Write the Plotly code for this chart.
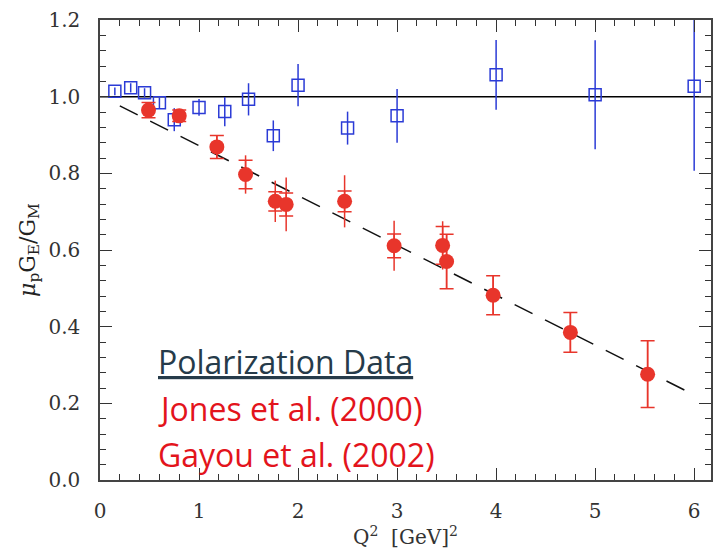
import plotly.graph_objects as go

# Rosenbluth data (blue open squares)
ros_x = [0.15, 0.31, 0.45, 0.60, 0.75, 1.00, 1.26, 1.50, 1.75, 2.00, 2.50, 3.00, 4.00, 5.00, 6.00]
ros_y = [1.014, 1.023, 1.010, 0.984, 0.940, 0.972, 0.961, 0.993, 0.898, 1.030, 0.918, 0.950, 1.057, 1.005, 1.027]
ros_err = [0.010, 0.012, 0.012, 0.014, 0.030, 0.022, 0.038, 0.042, 0.040, 0.055, 0.043, 0.070, 0.091, 0.142, 0.220]

# Polarization data (red filled circles)
pol_x = [0.49, 0.80, 1.18, 1.47, 1.77, 1.88, 2.47, 2.97, 3.46, 3.50, 3.97, 4.75, 5.53]
pol_y = [0.965, 0.950, 0.869, 0.797, 0.727, 0.719, 0.727, 0.611, 0.612, 0.570, 0.482, 0.385, 0.276]
pol_stat = [0.020, 0.015, 0.030, 0.037, 0.025, 0.030, 0.027, 0.031, 0.049, 0.071, 0.051, 0.052, 0.087]
pol_tot = [0.020, 0.015, 0.030, 0.050, 0.054, 0.070, 0.068, 0.065, 0.063, 0.071, 0.051, 0.052, 0.087]

# Linear fit (dashed)
fit_x = [0.2, 6.0]
fit_y = [0.976, 0.222]

x_ticks = [0, 1, 2, 3, 4, 5, 6]
y_ticks = [0.0, 0.2, 0.4, 0.6, 0.8, 1.0, 1.2]

BLUE = "#2b3bd6"
RED = "#e8352b"
SERIF = "DejaVu Serif"

fig = go.Figure()

fig.add_hline(y=1.0, line=dict(color="black", width=1.5), layer="below")

fig.add_trace(go.Scatter(
    x=fit_x, y=fit_y, mode="lines",
    line=dict(color="#111111", width=1.5, dash="20px,14px"),
    showlegend=False, hoverinfo="skip"))

fig.add_trace(go.Scatter(
    x=ros_x, y=ros_y, mode="markers",
    marker=dict(symbol="square-open", size=12, color=BLUE, line=dict(width=1.5, color=BLUE)),
    error_y=dict(type="data", array=ros_err, color=BLUE, thickness=1.5, width=0),
    showlegend=False))

# total errors (no caps)
fig.add_trace(go.Scatter(
    x=pol_x, y=pol_y, mode="markers",
    marker=dict(size=1, color="rgba(0,0,0,0)"),
    error_y=dict(type="data", array=pol_tot, color=RED, thickness=1.5, width=0),
    showlegend=False, hoverinfo="skip"))

# statistical errors (with caps) + markers
fig.add_trace(go.Scatter(
    x=pol_x, y=pol_y, mode="markers",
    marker=dict(symbol="circle", size=15, color=RED, line=dict(width=0)),
    error_y=dict(type="data", array=pol_stat, color=RED, thickness=1.5, width=7),
    showlegend=False))

ann_font = "Open Sans"
fig.add_annotation(x=0.57, y=0.308, xref="x", yref="y", xanchor="left", yanchor="middle",
                   text="<u>Polarization Data</u>", showarrow=False,
                   font=dict(family=ann_font, size=32, color="#263b4a"))
fig.add_annotation(x=0.57, y=0.186, xref="x", yref="y", xanchor="left", yanchor="middle",
                   text="Jones et al. (2000)", showarrow=False,
                   font=dict(family=ann_font, size=32, color="#e3141c"))
fig.add_annotation(x=0.57, y=0.067, xref="x", yref="y", xanchor="left", yanchor="middle",
                   text="Gayou et al. (2002)", showarrow=False,
                   font=dict(family=ann_font, size=32, color="#e3141c"))

axis_common = dict(
    showgrid=False, zeroline=False, showline=True, linecolor="#444444", linewidth=1.5,
    mirror="allticks", ticks="inside", ticklen=12, tickwidth=1.3, tickcolor="#333333",
    tickfont=dict(family=SERIF, size=20, color="#333333"),
)

fig.update_xaxes(
    range=[0, 6.17], tickvals=x_ticks, ticktext=[str(v) for v in x_ticks],
    minor=dict(dtick=0.2, ticks="inside", ticklen=6, tickwidth=1, tickcolor="#333333"),
    ticklabelstandoff=12,
    title=dict(text="Q<sup>2</sup>  [GeV]<sup>2</sup>", font=dict(family=SERIF, size=20, color="#333333"), standoff=6),
    **axis_common)

fig.update_yaxes(
    range=[0, 1.2], tickvals=y_ticks, ticktext=[f"{v:.1f}" for v in y_ticks],
    minor=dict(dtick=0.04, ticks="inside", ticklen=6, tickwidth=1, tickcolor="#333333"),
    ticklabelstandoff=14,
    title=dict(text="<i>μ</i><sub>p</sub>G<sub>E</sub>/G<sub>M</sub>", font=dict(family=SERIF, size=22, color="#222222"), standoff=7),
    **axis_common)

fig.update_layout(
    width=715, height=551,
    margin=dict(l=100, r=2, t=20, b=71),
    paper_bgcolor="white", plot_bgcolor="white",
    showlegend=False,
)

fig.write_html("out.html")
